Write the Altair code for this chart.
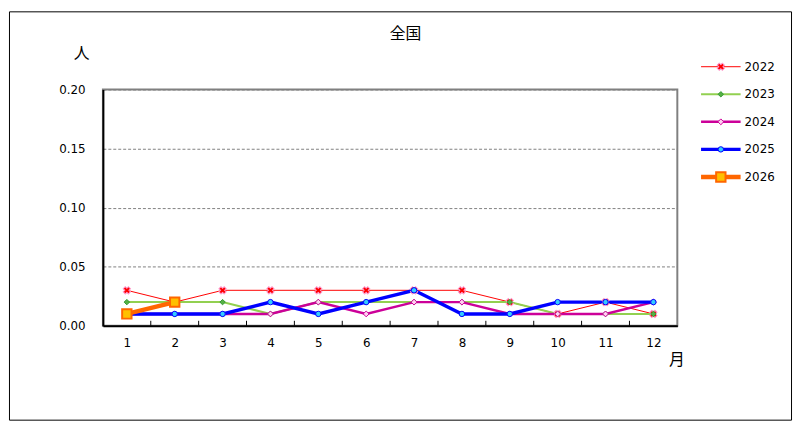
import altair as alt
import pandas as pd

months = list(range(1, 13))
years = ["2022", "2023", "2024", "2025", "2026"]

v2022 = [0.03, 0.02, 0.03, 0.03, 0.03, 0.03, 0.03, 0.03, 0.02, 0.01, 0.02, 0.01]
v2023 = [0.02, 0.02, 0.02, 0.01, 0.02, 0.02, 0.02, 0.02, 0.02, 0.01, 0.01, 0.01]
v2024 = [0.01, 0.01, 0.01, 0.01, 0.02, 0.01, 0.02, 0.02, 0.01, 0.01, 0.01, 0.02]
v2025 = [0.01, 0.01, 0.01, 0.02, 0.01, 0.02, 0.03, 0.01, 0.01, 0.02, 0.02, 0.02]
v2026 = [0.01, 0.02]

y_ticks = [0, 0.05, 0.10, 0.15, 0.20]

line_colors = ["#FF0000", "#92D050", "#CC0099", "#0000FF", "#FF6600"]
line_widths = [1, 2, 2.5, 3.5, 4.5]
mark_shapes = ["cross", "diamond", "diamond", "circle", "square"]
mark_fills = ["#FF0000", "#55B045", "#FFD0F0", "#33CCFF", "#FFC000"]
mark_strokes = ["#FF99CC", "#339933", "#CC0099", "#0000FF", "#FF6600"]
mark_sizes = [55, 30, 35, 30, 90]
mark_angles = [45, 0, 0, 0, 0]

rows = []
for yr, vals in zip(years, [v2022, v2023, v2024, v2025, v2026]):
    for m, v in zip(months, vals):
        rows.append({"year": yr, "month": m, "value": v})
df = pd.DataFrame(rows)

legend_df = pd.DataFrame({"year": years})
tick_df = pd.DataFrame({"edge": [m + 0.5 for m in months[:-1]]})
one = pd.DataFrame({"a": [0]})

W, H = 581, 239
FONT = "DejaVu Sans"
JP = "Noto Sans CJK JP"


def ord_scale(rng):
    return alt.Scale(type="ordinal", domain=years, range=rng)


color_s = ord_scale(line_colors)
width_s = ord_scale(line_widths)
shape_s = ord_scale(mark_shapes)
fill_s = ord_scale(mark_fills)
stroke_s = ord_scale(mark_strokes)
size_s = ord_scale(mark_sizes)
angle_s = ord_scale(mark_angles)
mark_sw = alt.condition("datum.year == '2026'", alt.value(2), alt.value(1))


def marker_enc():
    return dict(
        shape=alt.Shape("year:N", scale=shape_s, legend=None),
        fill=alt.Fill("year:N", scale=fill_s, legend=None),
        stroke=alt.Stroke("year:N", scale=stroke_s, legend=None),
        size=alt.Size("year:O", scale=size_s, legend=None),
        angle=alt.Angle("year:O", scale=angle_s, legend=None),
        strokeWidth=mark_sw,
    )


x_enc = alt.X(
    "month:Q",
    scale=alt.Scale(domain=[0.5, 12.5], nice=False, zero=False),
    axis=alt.Axis(
        values=months, format="d", ticks=False, tickSize=0, grid=False,
        domainColor="black", domainWidth=2, labelFont=FONT, labelFontSize=12,
        labelColor="black", labelPadding=12,
        title="月", titleFont=JP, titleFontSize=16, titleFontWeight="normal",
        titleColor="black", titleAngle=0, titleAlign="center",
        titleBaseline="middle", titleX=580, titleY=34,
    ),
)
y_enc = alt.Y(
    "value:Q",
    scale=alt.Scale(domain=[0, 0.2], nice=False),
    axis=alt.Axis(
        values=y_ticks, format=".2f", ticks=False, tickSize=0,
        grid=True, gridColor="#808080", gridDash=[3, 2], gridWidth=1,
        domainColor="black", domainWidth=2, labelFont=FONT, labelFontSize=12,
        labelColor="black", labelPadding=18,
        title="人", titleFont=JP, titleFontSize=16, titleFontWeight="normal",
        titleColor="black", titleAngle=0, titleAlign="center",
        titleBaseline="middle", titleX=-22, titleY=-36,
    ),
)

lines = alt.Chart(df).mark_line(strokeJoin="miter").encode(
    x=x_enc,
    y=y_enc,
    color=alt.Color("year:N", scale=color_s, legend=None),
    strokeWidth=alt.StrokeWidth("year:O", scale=width_s, legend=None),
    order="month:Q",
)

points = alt.Chart(df).mark_point(filled=True, opacity=1).encode(
    x="month:Q", y="value:Q", **marker_enc()
)

inner_ticks = alt.Chart(tick_df).mark_rule(color="black", strokeWidth=1).encode(
    x="edge:Q",
    y=alt.value(H),
    y2=alt.value(H - 5),
)

title = alt.Chart(one).mark_text(
    text="全国", font=JP, fontSize=16, color="black", baseline="middle", align="center"
).encode(x=alt.value(306), y=alt.value(-56))

frame = alt.Chart(one).mark_rect(fill=None, stroke="black", strokeWidth=1).encode(
    x=alt.value(-94.5), x2=alt.value(696.5), y=alt.value(-78.5), y2=alt.value(334.5)
)

main = alt.layer(frame, lines, points, inner_ticks, title).properties(
    width=W, height=H,
    view=alt.ViewBackground(stroke="#808080", strokeWidth=2),
)

lx = alt.Scale(domain=[0, 1], nice=False, zero=False)
ly = alt.Y(
    "year:N",
    scale=alt.Scale(type="point", domain=years, range=[-23, 88.5], padding=0),
    axis=None,
)

leg_lines = alt.Chart(legend_df).mark_rule().encode(
    x=alt.XDatum(0, type="quantitative", scale=lx, axis=None),
    x2=alt.X2Datum(1),
    y=ly,
    color=alt.Color("year:N", scale=color_s, legend=None),
    strokeWidth=alt.StrokeWidth("year:O", scale=width_s, legend=None),
)
leg_points = alt.Chart(legend_df).mark_point(filled=True, opacity=1).encode(
    x=alt.XDatum(0.5, type="quantitative", scale=lx, axis=None),
    y=ly,
    **marker_enc()
)
leg_text = alt.Chart(legend_df).mark_text(
    align="left", baseline="middle", dx=4, font=FONT, fontSize=12, color="black"
).encode(
    x=alt.XDatum(1, type="quantitative", scale=lx, axis=None),
    y=ly,
    text="year:N",
)

legend = alt.layer(leg_lines, leg_points, leg_text).properties(width=40, height=H)

chart = alt.hconcat(main, legend, spacing=24, bounds="flush").properties(
    padding=0, background="white"
).configure_view(stroke=None)

chart.save("out.html", embed_options={"renderer": "svg", "actions": False})
